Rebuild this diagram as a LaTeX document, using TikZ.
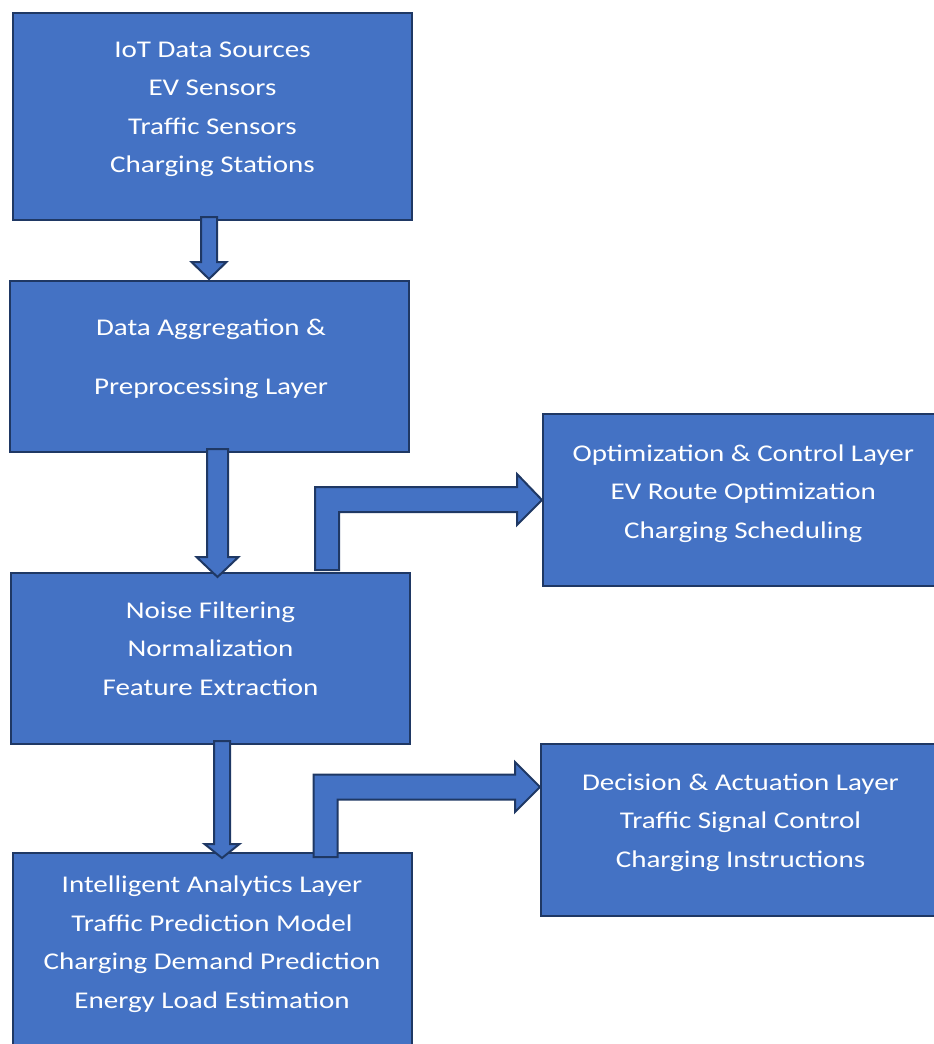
\documentclass[tikz,border=0pt]{standalone}
\usepackage{fontspec}
\setmainfont{Carlito}[FakeStretch=1.21]
\definecolor{boxfill}{HTML}{4472C4}
\definecolor{boxline}{HTML}{1F3864}
\newcommand{\downblock}[7]{% cx, ytop, yhead, ytip, halfshaft, halfhead, name
  \draw[barrow] (#1-#5,#2) -- (#1+#5,#2) -- (#1+#5,#3) -- (#1+#6,#3) -- (#1,#4)
    -- (#1-#6,#3) -- (#1-#5,#3) -- cycle;}
\begin{document}
\begin{tikzpicture}[x=1pt,y=-1pt,
  box/.style={draw=boxline, line width=2pt, fill=boxfill, inner sep=0pt, outer sep=0pt, anchor=north west},
  lbl/.style={text=white, anchor=north, inner sep=0pt, font=\fontsize{24}{38.5}\selectfont},
  lblwide/.style={text=white, anchor=north, inner sep=0pt, font=\fontsize{24}{59}\selectfont},
  barrow/.style={draw=boxline, line width=2pt, fill=boxfill, line join=miter}]
\useasboundingbox (0,0) rectangle (934,1044);

% boxes
\node[box, minimum width=399pt, minimum height=207pt] (b1) at (13,13) {};
\node[box, minimum width=399pt, minimum height=171pt] (b2) at (10,281) {};
\node[box, minimum width=399pt, minimum height=171pt] (b3) at (11,573) {};
\node[box, minimum width=399pt, minimum height=200pt] (b4) at (13,853) {};
\node[box, minimum width=400pt, minimum height=172pt] (b5) at (543,414) {};
\node[box, minimum width=400pt, minimum height=172pt] (b6) at (541,744) {};

% labels
\node[lbl] (t1) at (212.5,30.05) {\begin{tabular}{c}IoT Data Sources\\EV Sensors\\Traffic Sensors\\Charging Stations\end{tabular}};
\node[lblwide] (t2) at (211,293.7) {\begin{tabular}{c}Data Aggregation \&\\Preprocessing Layer\end{tabular}};
\node[lbl] (t3) at (210.5,591.05) {\begin{tabular}{c}Noise Filtering\\Normalization\\Feature Extraction\end{tabular}};
\node[lbl] (t4) at (212,865.65) {\begin{tabular}{c}Intelligent Analytics Layer\\Traffic Prediction Model\\Charging Demand Prediction\\Energy Load Estimation\end{tabular}};
\node[lbl] (t5) at (743.3,434.05) {\begin{tabular}{c}Optimization \& Control Layer\\EV Route Optimization\\Charging Scheduling\end{tabular}};
\node[lbl] (t6) at (740.5,763.05) {\begin{tabular}{c}Decision \& Actuation Layer\\Traffic Signal Control\\Charging Instructions\end{tabular}};

% down block arrows
\downblock{209}{217}{262}{279}{8}{17.5}{a1}
\downblock{217.5}{449}{557}{577}{10.5}{21}{a2}
\downblock{222}{741}{844}{858}{8}{17.5}{a3}

% bent block arrows
\draw[barrow] (315,570) -- (315,487) -- (517,487) -- (517,474) -- (542,500)
  -- (517,525) -- (517,512) -- (339,512) -- (339,570) -- cycle;
\draw[barrow] (313.5,857) -- (313.5,774.5) -- (515,774.5) -- (515,762) -- (540,787)
  -- (515,812) -- (515,799.5) -- (337.5,799.5) -- (337.5,857) -- cycle;
\end{tikzpicture}
\end{document}
